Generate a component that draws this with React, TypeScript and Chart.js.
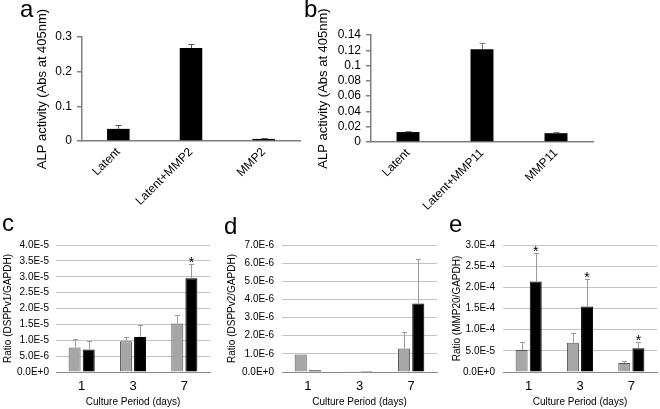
import React, { useEffect, useRef } from "react";
import { Chart, registerables } from "chart.js";
Chart.register(...registerables);

// ---------- data ----------
const aCategories = ["Latent", "Latent+MMP2", "MMP2"];
const aValues = [0.035, 0.268, 0.006];
const aErrors = [0.010, 0.012, 0.003];
const aTickLabels = ["0", "0.1", "0.2", "0.3"];

const bCategories = ["Latent", "Latent+MMP11", "MMP11"];
const bValues = [0.013, 0.1215, 0.0115];
const bErrors = [0.002, 0.0085, 0.0015];
const bTickLabels = ["0", "0.02", "0.04", "0.06", "0.08", "0.1", "0.12", "0.14"];

const days = ["1", "3", "7"];

const cGray = [7.7e-6, 9.7e-6, 1.53e-5];
const cGrayErr = [2.85e-6, 1.2e-6, 2.8e-6];
const cBlack = [7.1e-6, 1.1e-5, 2.95e-5];
const cBlackErr = [2.7e-6, 3.9e-6, 4.4e-6];
const cStars = [false, false, true];
const cTickLabels = ["0.0E+0", "5.0E-6", "1.0E-5", "1.5E-5", "2.0E-5", "2.5E-5", "3.0E-5", "3.5E-5", "4.0E-5"];

const dGray = [9.6e-7, 2e-8, 1.29e-6];
const dGrayErr = [0, 0, 9.2e-7];
const dBlack = [1.0e-7, 5e-8, 3.78e-6];
const dBlackErr = [0, 0, 2.43e-6];
const dTickLabels = ["0.0E+0", "1.0E-6", "2.0E-6", "3.0E-6", "4.0E-6", "5.0E-6", "6.0E-6", "7.0E-6"];

const eGray = [5.2e-5, 6.9e-5, 2.1e-5];
const eGrayErr = [2.0e-5, 2.3e-5, 6e-6];
const eBlack = [2.14e-4, 1.55e-4, 5.6e-5];
const eBlackErr = [6.7e-5, 6.4e-5, 1.4e-5];
const eStars = [true, true, true];
const eTickLabels = ["0.0E+0", "5.0E-5", "1.0E-4", "1.5E-4", "2.0E-4", "2.5E-4", "3.0E-4"];

const FONT = "'Liberation Sans', Arial, sans-serif";

const errorBarPlugin = {
  id: "errbars",
  afterDatasetsDraw(chart: any, _args: any, opts: any) {
    const ctx = chart.ctx;
    const y = chart.scales.y;
    chart.data.datasets.forEach((ds: any, di: number) => {
      const meta = chart.getDatasetMeta(di);
      meta.data.forEach((bar: any, i: number) => {
        const v = ds.data[i];
        const e = ds.errors ? ds.errors[i] : 0;
        const x = Math.round(bar.x) + 0.5;
        let top = bar.y;
        if (e) {
          top = y.getPixelForValue(v + e);
          const t = Math.round(top) + 0.5;
          ctx.save();
          ctx.strokeStyle = ds.errColor || opts.color || "#888";
          ctx.lineWidth = 1;
          ctx.beginPath();
          ctx.moveTo(x, bar.y);
          ctx.lineTo(x, t);
          ctx.moveTo(x - opts.cap / 2, t);
          ctx.lineTo(x + opts.cap / 2, t);
          ctx.stroke();
          ctx.restore();
        }
        if (ds.stars && ds.stars[i]) {
          ctx.save();
          ctx.fillStyle = "#000";
          ctx.font = "14px " + FONT;
          ctx.textAlign = "center";
          ctx.textBaseline = "alphabetic";
          ctx.fillText("*", bar.x, top + 3);
          ctx.restore();
        }
      });
    });
  },
};

function topConfig(p: any) {
  return {
    type: "bar",
    data: {
      labels: p.categories,
      datasets: [
        {
          data: p.values,
          errors: p.errors,
          backgroundColor: "#000",
          borderWidth: 0,
          categoryPercentage: 1,
          barPercentage: 0.31,
        },
      ],
    },
    plugins: [errorBarPlugin],
    options: {
      animation: false,
      responsive: false,
      maintainAspectRatio: false,
      layout: { padding: { top: p.padTop, right: p.padRight, left: 0, bottom: 0 } },
      plugins: {
        legend: { display: false },
        tooltip: { enabled: false },
        errbars: { color: p.errColor, cap: 6 },
      },
      scales: {
        x: {
          grid: { display: false, drawTicks: false },
          border: { display: true, color: "#808080", width: 1.5 },
          ticks: {
            autoSkip: false,
            minRotation: 45,
            maxRotation: 45,
            padding: 4,
            color: "#000",
            font: { family: FONT, size: 12 },
          },
          afterFit: (s: any) => {
            s.height = p.xHeight;
          },
        },
        y: {
          min: 0,
          max: p.max,
          grid: {
            display: true,
            drawOnChartArea: false,
            drawTicks: true,
            tickLength: 5,
            color: "#808080",
            lineWidth: 1.5,
          },
          border: { display: true, color: "#808080", width: 1.5 },
          ticks: {
            autoSkip: false,
            stepSize: p.step,
            padding: 5,
            color: "#000",
            font: { family: FONT, size: 12 },
            callback: (_v: any, i: number) => p.tickLabels[i],
          },
          title: {
            display: true,
            text: "ALP activity (Abs at 405nm)",
            color: "#000",
            font: { family: FONT, size: 13 },
            padding: { top: p.titlePad, bottom: 0 },
          },
          afterFit: (s: any) => {
            s.width = p.yWidth;
          },
        },
      },
    },
  };
}

function bottomConfig(p: any) {
  return {
    type: "bar",
    data: {
      labels: days,
      datasets: [
        {
          data: p.gray,
          errors: p.grayErr,
          backgroundColor: "#a6a6a6",
          borderColor: "#555",
          borderWidth: 1,
          categoryPercentage: 0.55,
          barPercentage: 0.85,
        },
        {
          data: p.black,
          errors: p.blackErr,
          stars: p.stars,
          backgroundColor: "#000",
          borderColor: "#000",
          borderWidth: 1,
          categoryPercentage: 0.55,
          barPercentage: 0.85,
        },
      ],
    },
    plugins: [errorBarPlugin],
    options: {
      animation: false,
      responsive: false,
      maintainAspectRatio: false,
      layout: { padding: { top: 35, right: p.padRight, left: 0, bottom: 0 } },
      plugins: {
        legend: { display: false },
        tooltip: { enabled: false },
        errbars: { color: "#9a9a9a", cap: 5 },
      },
      scales: {
        x: {
          grid: { display: false, drawTicks: false },
          border: { display: true, color: "#8a8a8a", width: 1 },
          ticks: {
            padding: 7,
            color: "#000",
            font: { family: FONT, size: 13 },
          },
          title: {
            display: true,
            text: "Culture Period (days)",
            color: "#000",
            font: { family: FONT, size: 10 },
            padding: { top: 0, bottom: 1 },
          },
          afterFit: (s: any) => {
            s.height = 37;
          },
        },
        y: {
          min: 0,
          max: p.max,
          grid: {
            drawTicks: false,
            color: (c: any) => (c.index === 0 ? "#8a8a8a" : "#c4c4c4"),
            lineWidth: 1,
          },
          border: { display: false },
          ticks: {
            autoSkip: false,
            stepSize: p.step,
            padding: p.tickPad,
            color: "#000",
            font: { family: FONT, size: 10 },
            callback: (_v: any, i: number) => p.tickLabels[i],
          },
          title: {
            display: true,
            text: p.title,
            color: "#000",
            font: { family: FONT, size: 10 },
            padding: { top: p.titlePad, bottom: 0 },
          },
          afterFit: (s: any) => {
            s.width = p.yWidth;
          },
        },
      },
    },
  };
}

const panels = [
  {
    key: "a", left: 0, top: 0, w: 310, h: 210,
    cfg: () => topConfig({ categories: aCategories, values: aValues, errors: aErrors, tickLabels: aTickLabels, max: 0.3, step: 0.1, padTop: 37, padRight: 10, xHeight: 69, yWidth: 82, titlePad: 35, errColor: "#555" }),
  },
  {
    key: "b", left: 310, top: 0, w: 350, h: 210,
    cfg: () => topConfig({ categories: bCategories, values: bValues, errors: bErrors, tickLabels: bTickLabels, max: 0.14, step: 0.02, padTop: 35, padRight: 67, xHeight: 68, yWidth: 61, titlePad: 6, errColor: "#777" }),
  },
  {
    key: "c", left: 0, top: 210, w: 215, h: 199,
    cfg: () => bottomConfig({ gray: cGray, grayErr: cGrayErr, black: cBlack, blackErr: cBlackErr, stars: cStars, tickLabels: cTickLabels, max: 4e-5, step: 5e-6, padRight: 5, yWidth: 56, tickPad: 7, titlePad: 2, title: "Ratio (DSPPv1/GAPDH)" }),
  },
  {
    key: "d", left: 218, top: 210, w: 222, h: 199,
    cfg: () => bottomConfig({ gray: dGray, grayErr: dGrayErr, black: dBlack, blackErr: dBlackErr, stars: null, tickLabels: dTickLabels, max: 7e-6, step: 1e-6, padRight: 3, yWidth: 64, tickPad: 8, titlePad: 8, title: "Ratio (DSPPv2/GAPDH)" }),
  },
  {
    key: "e", left: 440, top: 210, w: 220, h: 199,
    cfg: () => bottomConfig({ gray: eGray, grayErr: eGrayErr, black: eBlack, blackErr: eBlackErr, stars: eStars, tickLabels: eTickLabels, max: 3e-4, step: 5e-5, padRight: 3, yWidth: 63, tickPad: 8, titlePad: 11, title: "Ratio (MMP20/GAPDH)" }),
  },
];

const letters = [
  { t: "a", left: 20, top: -3 },
  { t: "b", left: 304, top: -3 },
  { t: "c", left: 2, top: 211 },
  { t: "d", left: 224, top: 214 },
  { t: "e", left: 449, top: 212 },
];

export default function App() {
  const refs = useRef<(HTMLCanvasElement | null)[]>([]);
  useEffect(() => {
    const charts = panels.map((p, i) => new Chart(refs.current[i] as HTMLCanvasElement, p.cfg() as any));
    return () => charts.forEach((c) => c.destroy());
  }, []);
  return (
    <div style={{ position: "absolute", left: 0, top: 0, width: 660, height: 409, background: "#fff", overflow: "hidden" }}>
      {panels.map((p, i) => (
        <div key={p.key} style={{ position: "absolute", left: p.left, top: p.top, width: p.w, height: p.h }}>
          <canvas ref={(el) => { refs.current[i] = el; }} width={p.w} height={p.h} style={{ width: p.w, height: p.h, display: "block" }} />
        </div>
      ))}
      {letters.map((l) => (
        <div key={l.t} style={{ position: "absolute", left: l.left, top: l.top, fontFamily: FONT, fontSize: 24, lineHeight: 1, color: "#000" }}>
          {l.t}
        </div>
      ))}
    </div>
  );
}
